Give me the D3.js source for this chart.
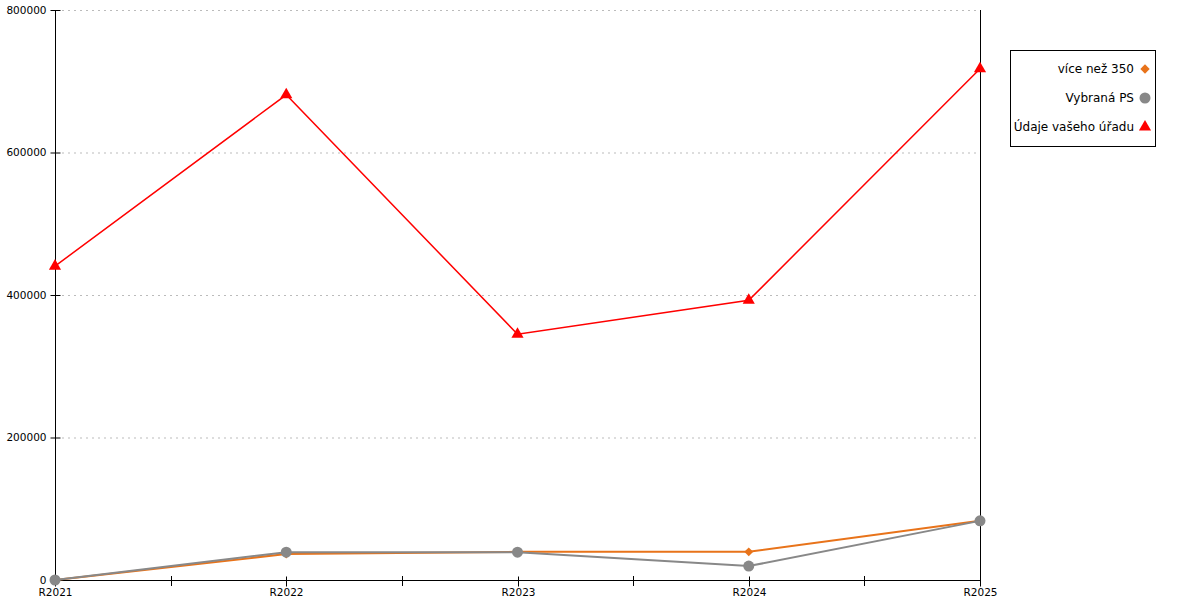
<!DOCTYPE html>
<html><head><meta charset="utf-8">
<script src="https://cdn.jsdelivr.net/npm/d3@7/dist/d3.min.js"></script>
<style>
html,body{margin:0;padding:0;background:#fff;}
svg{display:block;font-family:"DejaVu Sans",sans-serif;}
</style></head>
<body><svg id="c" width="1200" height="600"></svg>
<script>
const categories = ["R2021","R2022","R2023","R2024","R2025"];
const seriesNames = ["více než 350","Vybraná PS","Údaje vašeho úřadu"];
const orangeValues = [0, 36500, 39500, 39500, 83000];
const grayValues = [0, 39000, 39000, 19500, 83000];
const redValues = [440500, 681000, 345000, 392500, 717500];
const yTicks = [0, 200000, 400000, 600000, 800000];

const svg = d3.select("#c");
const L = 55, R = 980, T = 10, B = 580;
const x = d3.scalePoint().domain(categories).range([L, R]);
const y = d3.scaleLinear().domain([0, 800000]).range([B, T]);

// gridlines
svg.append("g").selectAll("line").data(yTicks.filter(d => d > 0)).join("line")
  .attr("x1", L + 7).attr("x2", R).attr("y1", d => y(d) + 0.5).attr("y2", d => y(d) + 0.5)
  .attr("stroke", "#bbb").attr("stroke-width", 1).attr("stroke-dasharray", "2,4");

// y axis
const yAxis = svg.append("g").attr("transform", `translate(${L + 0.5},0)`)
  .call(d3.axisLeft(y).tickValues(yTicks).tickFormat(d3.format("d")).tickSize(5).tickSizeOuter(0));
yAxis.select(".domain").remove();
yAxis.selectAll(".tick line").attr("x1", -5).attr("x2", 5).attr("stroke", "#000");
yAxis.selectAll(".tick text").attr("x", -9).attr("font-size", 10.5).attr("font-family", "DejaVu Sans").attr("fill", "#000");
yAxis.selectAll(".tick").attr("transform", d => `translate(0,${y(d) + 0.5})`);
svg.append("line").attr("x1", L + 0.5).attr("x2", L + 0.5).attr("y1", T).attr("y2", B).attr("stroke", "#000");
// right line
svg.append("line").attr("x1", R + 0.5).attr("x2", R + 0.5).attr("y1", T).attr("y2", B + 6).attr("stroke", "#000");

// x axis
const midTicks = categories.slice(0, -1).map((c, i) => (x(c) + x(categories[i + 1])) / 2);
svg.append("line").attr("x1", L).attr("x2", R).attr("y1", B + 0.5).attr("y2", B + 0.5).attr("stroke", "#000");
const xAxis = svg.append("g").attr("transform", `translate(0,${B + 0.5})`)
  .call(d3.axisBottom(x).tickSize(6).tickSizeOuter(0));
xAxis.select(".domain").remove();
xAxis.selectAll(".tick line").attr("y1", -4).attr("y2", 6).attr("stroke", "#000");
xAxis.selectAll(".tick text").attr("y", 8).attr("font-size", 10.5).attr("font-family", "DejaVu Sans").attr("fill", "#000");
xAxis.selectAll(".tick").attr("transform", d => `translate(${Math.round(x(d)) + 0.5},0)`);
svg.append("g").selectAll("line").data(midTicks).join("line")
  .attr("x1", d => Math.round(d) + 0.5).attr("x2", d => Math.round(d) + 0.5)
  .attr("y1", B - 4).attr("y2", B + 6).attr("stroke", "#000");

const line = d3.line().x((d, i) => x(categories[i])).y(d => y(d));
const orange = "#e8731a", gray = "#888888", red = "#ff0000";

svg.append("path").datum(redValues).attr("d", line).attr("fill", "none").attr("stroke", red).attr("stroke-width", 1.5);
svg.append("path").datum(orangeValues).attr("d", line).attr("fill", "none").attr("stroke", orange).attr("stroke-width", 2);
svg.append("path").datum(grayValues).attr("d", line).attr("fill", "none").attr("stroke", gray).attr("stroke-width", 2);

const triangle = d3.symbol().type(d3.symbolTriangle).size(64);

svg.append("g").selectAll("path").data(orangeValues).join("path")
  .attr("d", d3.symbol().type(d3.symbolSquare).size(40)).attr("fill", orange)
  .attr("transform", (d, i) => `translate(${x(categories[i])},${y(d)}) rotate(45)`);
svg.append("g").selectAll("circle").data(grayValues).join("circle")
  .attr("cx", (d, i) => x(categories[i])).attr("cy", d => y(d)).attr("r", 5.5).attr("fill", gray);
svg.append("g").selectAll("path").data(redValues).join("path")
  .attr("transform", (d, i) => `translate(${x(categories[i])},${y(d)})`)
  .attr("d", triangle).attr("fill", red);

// legend
const lg = svg.append("g");
lg.append("rect").attr("x", 1010.5).attr("y", 50.5).attr("width", 145).attr("height", 96)
  .attr("fill", "#fff").attr("stroke", "#000");
const rowsY = [69, 98, 127];
lg.selectAll("text").data(seriesNames).join("text")
  .attr("x", 1134).attr("y", (d, i) => rowsY[i]).attr("dy", "0.35em")
  .attr("text-anchor", "end").attr("font-size", 12).attr("font-family", "DejaVu Sans").attr("fill", "#000")
  .text(d => d);
lg.append("path").attr("d", d3.symbol().type(d3.symbolSquare).size(44)).attr("fill", orange)
  .attr("transform", `translate(1145,${rowsY[0]}) rotate(45)`);
lg.append("circle").attr("cx", 1145).attr("cy", rowsY[1]).attr("r", 5.5).attr("fill", gray);
lg.append("path").attr("d", triangle).attr("fill", red).attr("transform", `translate(1145,${rowsY[2]})`);
</script></body></html>
